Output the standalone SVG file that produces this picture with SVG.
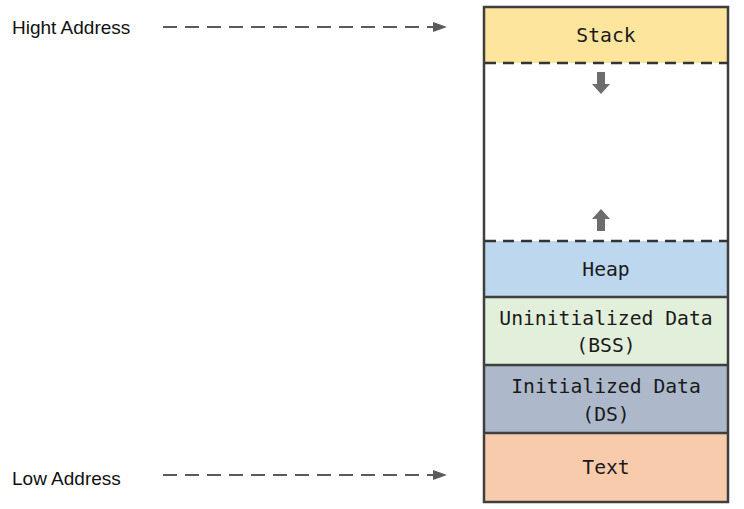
<svg xmlns="http://www.w3.org/2000/svg" width="744" height="509" viewBox="0 0 744 509">
<style>
.seg{stroke:#3f3f3f;stroke-width:2.5}
.lbl{font-family:"DejaVu Sans Mono","Liberation Mono",monospace;font-size:19.7px;fill:#1a1a1a;text-anchor:middle}
.side{font-family:"Liberation Sans",Arial,sans-serif;font-size:19px;fill:#111}
.conn{stroke:#5a5a5a;stroke-width:2;stroke-dasharray:14 8;fill:none}
.div{stroke:#333;stroke-width:2.5;stroke-dasharray:11 7}
.grow{fill:#6d6d6d}
</style>
<defs>
<marker id="ah" markerWidth="14" markerHeight="10" refX="14" refY="5" orient="auto" markerUnits="userSpaceOnUse">
<path d="M0,0 L14,5 L0,10 Z" fill="#5a5a5a"/>
</marker>
</defs>
<rect width="744" height="509" fill="#fff"/>
<g id="free">
<rect x="484" y="63" width="244" height="178" fill="#fff"/>
<path class="grow" d="M597,72 h8 v12 h5 l-9,10 l-9,-10 h5 z"/>
<path class="grow" d="M597,231 h8 v-12 h5 l-9,-10 l-9,10 h5 z"/>
</g>
<g id="stack">
<rect x="484" y="7" width="244" height="56" fill="#fde59e"/>
<text class="lbl" x="606" y="42">Stack</text>
</g>
<g id="heap">
<rect x="484" y="241" width="244" height="56" fill="#bdd7ee"/>
<text class="lbl" x="606" y="276">Heap</text>
</g>
<g id="bss">
<rect x="484" y="297" width="244" height="68" fill="#e2efda"/>
<text class="lbl" x="606" y="325">Uninitialized Data</text>
<text class="lbl" x="606" y="352">(BSS)</text>
</g>
<g id="ds">
<rect x="484" y="365" width="244" height="68" fill="#adb9ca"/>
<text class="lbl" x="606" y="393">Initialized Data</text>
<text class="lbl" x="606" y="421">(DS)</text>
</g>
<g id="text">
<rect x="484" y="433" width="244" height="69" fill="#f8cbad"/>
<text class="lbl" x="606" y="474">Text</text>
</g>
<g id="outline">
<rect x="484" y="7" width="244" height="495" fill="none" class="seg"/>
<line class="seg" x1="484" y1="297" x2="728" y2="297"/>
<line class="seg" x1="484" y1="365" x2="728" y2="365"/>
<line class="seg" x1="484" y1="433" x2="728" y2="433"/>
<line class="div" x1="485" y1="63" x2="728" y2="63"/>
<line class="div" x1="485" y1="241" x2="728" y2="241"/>
</g>
<g id="high">
<text class="side" x="12" y="34">Hight Address</text>
</g>
<g id="low">
<text class="side" x="12" y="485">Low Address</text>
</g>
<g id="connectors">
<path class="conn" d="M163,27 H447" marker-end="url(#ah)"/>
<path class="conn" d="M163,475 H447" marker-end="url(#ah)"/>
</g>
</svg>
